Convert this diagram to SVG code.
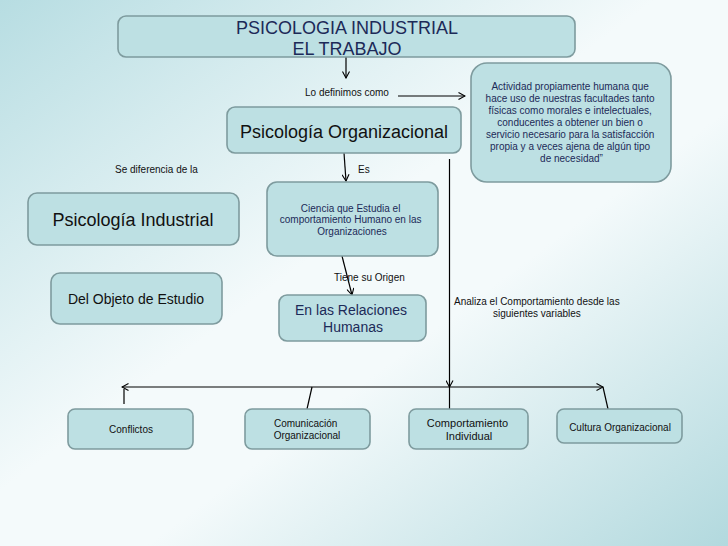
<svg xmlns="http://www.w3.org/2000/svg" width="728" height="546" viewBox="0 0 728 546">
<defs>
<linearGradient id="bg" x1="0" y1="0" x2="1" y2="1">
<stop offset="0" stop-color="#b7dde2"/>
<stop offset="0.45" stop-color="#f4fafb"/>
<stop offset="0.6" stop-color="#f4fafb"/>
<stop offset="1" stop-color="#b2d9de"/>
</linearGradient>
<marker id="arr" markerWidth="8" markerHeight="8" refX="7" refY="4" orient="auto-start-reverse" markerUnits="userSpaceOnUse">
<path d="M0.5,0.5 L7,4 L0.5,7.5" fill="none" stroke="#000" stroke-width="1.1"/>
</marker>
</defs>
<style>
.box{fill:#bde0e3;stroke:#7e9b9e;stroke-width:1.6}
.t{font-family:"Liberation Sans",Arial,sans-serif;text-anchor:middle;fill:#111}
.n{fill:#1c2a58}
.lbl{font-family:"Liberation Sans",Arial,sans-serif;font-size:10px;fill:#111}
.c{stroke:#000;stroke-width:1.2;fill:none}
</style>
<rect width="728" height="546" fill="url(#bg)"/>
<g id="connectors">
<line class="c" x1="346" y1="57" x2="346" y2="78" marker-end="url(#arr)"/>
<line class="c" x1="398" y1="96" x2="465" y2="96" marker-end="url(#arr)"/>
<line class="c" x1="344" y1="153" x2="346" y2="181" marker-end="url(#arr)"/>
<line class="c" x1="342" y1="256" x2="352" y2="295" marker-end="url(#arr)"/>
<line class="c" x1="449.5" y1="159" x2="449.5" y2="387" marker-end="url(#arr)"/>
<line class="c" x1="449.5" y1="387" x2="449.5" y2="409"/>
<line class="c" x1="122" y1="387" x2="603" y2="387" marker-start="url(#arr)" marker-end="url(#arr)"/>
<line class="c" x1="124" y1="389" x2="124" y2="404"/>
<line class="c" x1="312" y1="387" x2="307" y2="409"/>
<line class="c" x1="603" y1="387" x2="608" y2="409"/>
<text class="lbl" x="305" y="95.5">Lo definimos como</text>
<text class="lbl" x="358" y="172.5">Es</text>
<text class="lbl" x="115" y="172.5">Se diferencia de la</text>
<text class="lbl" x="334" y="280.5">Tiene su Origen</text>
<text class="lbl" x="454" y="305">Analiza el Comportamiento desde las</text>
<text class="lbl" x="493" y="316.5">siguientes variables</text>
</g>
<g id="title">
<rect class="box" x="118" y="16" width="457" height="41" rx="8"/>
<text class="t n" x="347" y="33.5" font-size="18">PSICOLOGIA INDUSTRIAL</text>
<text class="t n" x="347" y="55" font-size="18">EL TRABAJO</text>
</g>
<g id="actividad">
<rect class="box" x="471" y="63" width="200" height="119" rx="16"/>
<text class="t n" font-size="10" x="571.5">
<tspan x="571.5" y="90">Actividad propiamente humana que</tspan>
<tspan x="571.5" y="102">hace uso de nuestras facultades tanto</tspan>
<tspan x="571.5" y="114">físicas como morales e intelectuales,</tspan>
<tspan x="571.5" y="126">conducentes a obtener un bien o</tspan>
<tspan x="571.5" y="138">servicio necesario para la satisfacción</tspan>
<tspan x="571.5" y="150">propia y a veces ajena de algún tipo</tspan>
<tspan x="571.5" y="162">de necesidad”</tspan>
</text>
</g>
<g id="psico-org">
<rect class="box" x="227" y="107" width="234" height="46" rx="8"/>
<text class="t" x="344" y="138" font-size="18">Psicología Organizacional</text>
</g>
<g id="ciencia">
<rect class="box" x="267" y="182" width="171" height="74" rx="10"/>
<text class="t n" font-size="10">
<tspan x="352" y="211.5">Ciencia que Estudia el</tspan>
<tspan x="352" y="223">comportamiento Humano en las</tspan>
<tspan x="352" y="235">Organizaciones</tspan>
</text>
</g>
<g id="relaciones">
<rect class="box" x="279" y="295" width="147" height="46" rx="8"/>
<text class="t n" font-size="14">
<tspan x="353" y="315">En las Relaciones</tspan>
<tspan x="353" y="332">Humanas</tspan>
</text>
</g>
<g id="psico-ind">
<rect class="box" x="28" y="193" width="211" height="52" rx="9"/>
<text class="t" x="133" y="225.5" font-size="18">Psicología Industrial</text>
</g>
<g id="objeto">
<rect class="box" x="51" y="273" width="171" height="51" rx="9"/>
<text class="t" x="136" y="304" font-size="14">Del Objeto de Estudio</text>
</g>
<g id="conflictos">
<rect class="box" x="68" y="409" width="125" height="40" rx="7"/>
<text class="t" x="131" y="432.5" font-size="10">Conflictos</text>
</g>
<g id="comunicacion">
<rect class="box" x="245" y="409" width="125" height="40" rx="7"/>
<text class="t" font-size="10">
<tspan x="307" y="426.5">Comunicación</tspan>
<tspan x="307" y="438.5">Organizacional</tspan>
</text>
</g>
<g id="comportamiento">
<rect class="box" x="409" y="409" width="119" height="40" rx="7"/>
<text class="t" font-size="11">
<tspan x="469" y="427">Comportamiento</tspan>
<tspan x="469" y="440">Individual</tspan>
</text>
</g>
<g id="cultura">
<rect class="box" x="557" y="409" width="125" height="34" rx="7"/>
<text class="t" x="620" y="430.5" font-size="10">Cultura Organizacional</text>
</g>
</svg>
